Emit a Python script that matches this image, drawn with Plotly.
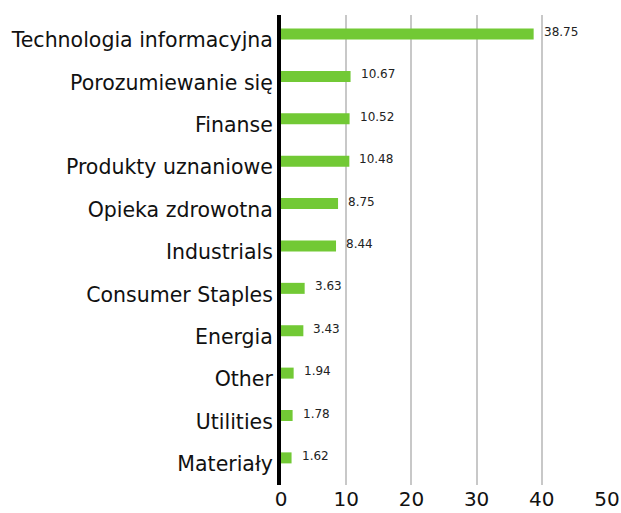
import plotly.graph_objects as go

categories = ["Technologia informacyjna", "Porozumiewanie się", "Finanse", "Produkty uznaniowe",
              "Opieka zdrowotna", "Industrials", "Consumer Staples", "Energia", "Other",
              "Utilities", "Materiały"]
values = [38.75, 10.67, 10.52, 10.48, 8.75, 8.44, 3.63, 3.43, 1.94, 1.78, 1.62]
value_labels = ["38.75", "10.67", "10.52", "10.48", "8.75", "8.44", "3.63", "3.43", "1.94", "1.78", "1.62"]
x_ticks = [0, 10, 20, 30, 40, 50]

FONT = "DejaVu Sans"

fig = go.Figure()
fig.add_trace(go.Bar(
    x=values, y=categories, orientation="h",
    marker=dict(color="#72c935", line=dict(width=0)),
    width=0.26,
    hoverinfo="skip",
))

for c, v, t in zip(categories, values, value_labels):
    fig.add_annotation(x=v, y=c, text=t, showarrow=False, xanchor="left", yanchor="middle",
                       xshift=8, yshift=2, font=dict(family=FONT, size=12, color="#222222"))

fig.update_layout(
    width=621, height=513,
    margin=dict(l=281, r=14, t=15, b=28),
    paper_bgcolor="white", plot_bgcolor="white",
    showlegend=False,
    font=dict(family=FONT, color="#111111"),
    xaxis=dict(range=[0, 50], tickvals=x_ticks, showgrid=True, gridcolor="#c8c8c8", gridwidth=2,
               zeroline=False, showline=False, tickfont=dict(size=20, color="#111111"),
               ticks="", ticklabelstandoff=0, fixedrange=True, automargin=False),
    yaxis=dict(categoryorder="array", categoryarray=categories,
               range=[10.64, -0.45], showgrid=False, zeroline=False,
               showline=True, linecolor="#000000", linewidth=4,
               tickfont=dict(size=20.5, color="#111111"), ticks="", ticklabelstandoff=0,
               ticklabelshift=-6, fixedrange=True, automargin=False),
)

fig.write_html("out.html", config={"displayModeBar": False},
               post_script="document.body.style.margin='0';document.body.style.overflow='hidden';")
